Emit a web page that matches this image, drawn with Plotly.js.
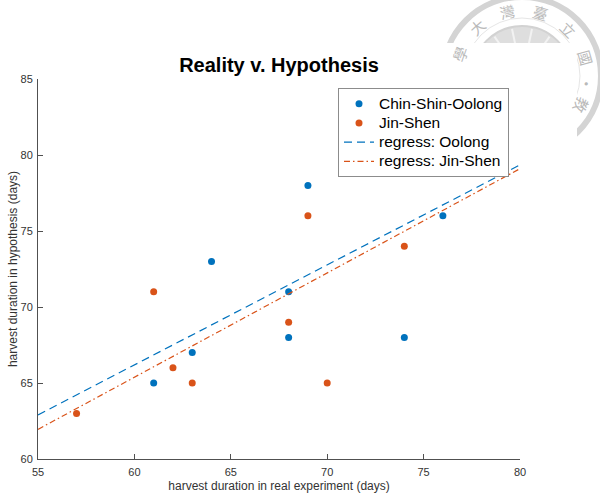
<!DOCTYPE html>
<html>
<head>
<meta charset="utf-8">
<script src="https://cdn.plot.ly/plotly-3.0.1.min.js"></script>
<style>
  html, body { margin: 0; padding: 0; background: #fff; }
  #chart { width: 600px; height: 496px; }
</style>
</head>
<body>
<div id="chart"></div>
<script>
// Harvest durations (days): real experiment vs. hypothesis
const oolongReal = [61, 63, 64, 68, 68, 69, 74, 76];
const oolongHypo = [65, 67, 73, 71, 68, 78, 68, 76];
const jinshenReal = [57, 61, 62, 63, 68, 69, 70, 74];
const jinshenHypo = [63, 71, 66, 65, 69, 76, 65, 74];

// Regression lines, evaluated at the ends of the x range
const fitX = [55, 80];
const oolongFitY = [62.9, 79.35];
const jinshenFitY = [61.95, 79.1];

const seriesNames = ['Chin-Shin-Oolong', 'Jin-Shen', 'regress: Oolong', 'regress: Jin-Shen'];
const xTicks = [55, 60, 65, 70, 75, 80];
const yTicks = [60, 65, 70, 75, 80, 85];

const BLUE = '#0072BD';
const ORANGE = '#D95319';
const FONT = 'Liberation Sans, Arial, Helvetica, sans-serif';

// page geometry
const W = 600, H = 496;
const M = { l: 38, r: 80, t: 79, b: 37 };
const PW = W - M.l - M.r, PH = H - M.t - M.b;
const px = v => (v - M.l) / PW;          // page pixel -> paper x
const py = v => (H - M.b - v) / PH;      // page pixel -> paper y

// faint university seal printed in the page corner
const sealC = [522, 76];
const shapes = [];
function circle(r, opts) {
  shapes.push(Object.assign({
    type: 'circle', xref: 'paper', yref: 'paper', layer: 'below',
    x0: px(sealC[0] - r), x1: px(sealC[0] + r),
    y0: py(sealC[1] + r), y1: py(sealC[1] - r)
  }, opts));
}
circle(79, { line: { color: '#d4d4d4', width: 6 } });
circle(58, { line: { color: '#e6e6e6', width: 1 } });
circle(50, { fillcolor: '#dedede', line: { color: '#d2d2d2', width: 2 } });
// light rays across the emblem
[-60, -35, -12, 12, 35, 60].forEach(a => {
  const t = a * Math.PI / 180;
  shapes.push({
    type: 'line', xref: 'paper', yref: 'paper', layer: 'below',
    x0: px(sealC[0] + 8 * Math.sin(t)), y0: py(sealC[1] - 8 * Math.cos(t)),
    x1: px(sealC[0] + 48 * Math.sin(t)), y1: py(sealC[1] - 48 * Math.cos(t)),
    line: { color: '#f2f2f2', width: 2 }
  });
});
// white figure sheet over the lower part of the seal
shapes.push({
  type: 'rect', xref: 'paper', yref: 'paper', layer: 'below',
  x0: px(-5), x1: px(577), y0: py(H + 5), y1: py(43),
  fillcolor: '#ffffff', line: { width: 0 }
});

const sealChars = [['國', 74], ['立', 45], ['臺', 16], ['灣', -13], ['大', -42], ['學', -70], ['·', 97], ['教', 116]];
const annotations = sealChars.map(([ch, a]) => {
  const t = a * Math.PI / 180, r = 66;
  return {
    text: ch, xref: 'paper', yref: 'paper', showarrow: false,
    x: px(sealC[0] + r * Math.sin(t)), y: py(sealC[1] - r * Math.cos(t)),
    xanchor: 'center', yanchor: 'middle', textangle: a,
    font: { family: 'Noto Sans CJK TC, sans-serif', size: 15, color: '#b9b9b9' }
  };
});

// legend labels are set a little larger than the row pitch of the legend font
const legendLabel = s => '<span style="font-size:15.5px">' + s + '</span>';

const traces = [
  { x: oolongReal, y: oolongHypo, name: legendLabel(seriesNames[0]), type: 'scatter', mode: 'markers',
    marker: { color: BLUE, size: 7 } },
  { x: jinshenReal, y: jinshenHypo, name: legendLabel(seriesNames[1]), type: 'scatter', mode: 'markers',
    marker: { color: ORANGE, size: 7 } },
  { x: fitX, y: oolongFitY, name: legendLabel(seriesNames[2]), type: 'scatter', mode: 'lines',
    line: { color: BLUE, width: 1.2, dash: '8px,5px' } },
  { x: fitX, y: jinshenFitY, name: legendLabel(seriesNames[3]), type: 'scatter', mode: 'lines',
    line: { color: ORANGE, width: 1.2, dash: '6px,3px,1.5px,3px' } }
];

const axisCommon = {
  showgrid: false, zeroline: false, showline: true, mirror: false,
  linecolor: '#505050', linewidth: 1,
  ticks: 'inside', ticklen: 5, tickcolor: '#505050', tickwidth: 1,
  tickfont: { family: FONT, size: 11, color: '#333333' },
  tickmode: 'array'
};

const layout = {
  width: W, height: H,
  margin: M,
  paper_bgcolor: '#ffffff',
  plot_bgcolor: 'rgba(0,0,0,0)',
  font: { family: FONT },
  title: {
    text: '<b>Reality v. Hypothesis</b>',
    font: { family: FONT, size: 20, color: '#000000' },
    x: 0.5, xref: 'paper', xanchor: 'center',
    y: 1 - 65 / H, yref: 'container', yanchor: 'middle'
  },
  xaxis: Object.assign({}, axisCommon, {
    range: [55, 80], tickvals: xTicks, ticklabelstandoff: 3,
    title: { text: 'harvest duration in real experiment (days)', standoff: 4,
             font: { family: FONT, size: 12, color: '#333333' } }
  }),
  yaxis: Object.assign({}, axisCommon, {
    range: [60, 85], tickvals: yTicks, ticklabelstandoff: 2,
    title: { text: 'harvest duration in hypothesis (days)', standoff: 0,
             font: { family: FONT, size: 12, color: '#333333' } }
  }),
  showlegend: true,
  legend: {
    x: px(338), y: py(88), xanchor: 'left', yanchor: 'top',
    bgcolor: '#ffffff', bordercolor: '#8c8c8c', borderwidth: 1,
    font: { family: FONT, size: 12.5, color: '#000000' },
    tracegroupgap: 0
  },
  shapes: shapes,
  annotations: annotations
};

Plotly.newPlot('chart', traces, layout, { staticPlot: true, displayModeBar: false });
</script>
</body>
</html>
